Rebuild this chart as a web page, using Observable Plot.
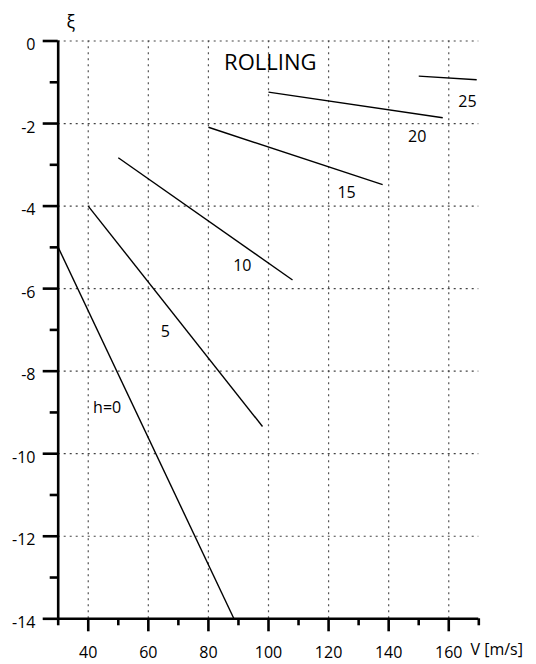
<!DOCTYPE html>
<html>
<head>
<meta charset="utf-8">
<script src="https://cdn.jsdelivr.net/npm/d3@7"></script>
<script src="https://cdn.jsdelivr.net/npm/@observablehq/plot@0.6"></script>
<style>
  html, body { margin: 0; padding: 0; background: #fff; }
  #chart { width: 536px; height: 664px; }
</style>
</head>
<body>
<div id="chart"></div>
<script>
// Series: h value, start/end speed V [m/s], start/end ξ
const hValues = [0, 5, 10, 15, 20, 25];
const vStart  = [30, 40, 50, 80, 100, 150];
const vEnd    = [88.5, 98, 108, 138, 158, 169.3];
const xiStart = [-5, -4, -2.83, -2.09, -1.24, -0.85];
const xiEnd   = [-14, -9.34, -5.79, -3.48, -1.86, -0.94];

// Curve labels
const labelText = ["h=0", "5", "10", "15", "20", "25"];
const labelV    = [46.3, 65.7, 91.3, 126, 149.5, 166.2];
const labelXi   = [-8.89, -7.05, -5.44, -3.69, -2.33, -1.47];

// Ticks
const xMajor = [40, 60, 80, 100, 120, 140, 160];
const xMinor = [30, 50, 70, 90, 110, 130, 150, 170];
const yMajor = [0, -2, -4, -6, -8, -10, -12, -14];
const yMinor = [-1, -3, -5, -7, -9, -11, -13];
const xGrid = [40, 60, 80, 100, 120, 140, 160];
const yGrid = [0, -2, -4, -6, -8, -10, -12];

const title = "ROLLING";
const xLabel = "V [m/s]";
const yLabel = "ξ";

const curves = hValues.map((h, i) => ({h, x1: vStart[i], y1: xiStart[i], x2: vEnd[i], y2: xiEnd[i]}));
const labels = labelText.map((t, i) => ({t, x: labelV[i], y: labelXi[i]}));

const fmt = d => String(d);
const font = "'Open Sans', 'Noto Sans', sans-serif";
const xMin = 30, xMax = 170, yMin = -14, yMax = 0;

const W = 536, H = 664, mL = 57.7, mR = 57.7, mT = 40.5, mB = 45.7;
// tick lengths in pixels converted into data units of the scales
const pxPerX = (W - mL - mR) / (xMax - xMin);
const pxPerY = (H - mT - mB) / (yMax - yMin);
const xTickRows = [
  ...xMajor.map(v => ({x1: v, y1: yMin, y2: yMin - 13 / pxPerY})),
  ...xMinor.map(v => ({x1: v, y1: yMin, y2: yMin - 7 / pxPerY}))
];
const yTickRows = [
  ...yMajor.map(v => ({x1: xMin - 15 / pxPerX, x2: xMin, y1: v})),
  ...yMinor.map(v => ({x1: xMin - 8 / pxPerX, x2: xMin, y1: v}))
];

const chart = Plot.plot({
  width: W,
  height: H,
  marginLeft: mL,
  marginRight: mR,
  marginTop: mT,
  marginBottom: mB,
  style: {fontFamily: font, fontSize: "16px", color: "#000", background: "#fff", overflow: "visible"},
  x: {domain: [xMin, xMax], axis: null},
  y: {domain: [yMin, yMax], axis: null},
  marks: [
    // grid
    Plot.ruleX(xGrid, {y1: yMin, y2: yMax, stroke: "#555", strokeWidth: 1.2, strokeDasharray: "2,4"}),
    Plot.ruleY(yGrid, {x1: xMin, x2: xMax, stroke: "#444", strokeWidth: 1.2, strokeDasharray: "2,4"}),
    // ticks
    Plot.ruleX(xTickRows, {x: "x1", y1: "y1", y2: "y2", stroke: "#000", strokeWidth: 2.6}),
    Plot.ruleY(yTickRows, {y: "y1", x1: "x1", x2: "x2", stroke: "#000", strokeWidth: 2.6}),
    Plot.text(xMajor, {x: d => d, y: yMin, dy: 33.6, text: fmt, fontSize: 16, fill: "#000", textAnchor: "middle", lineAnchor: "middle"}),
    Plot.text(yMajor, {x: xMin, y: d => d, dx: -22.7, dy: 3.9, text: fmt, fontSize: 16, fill: "#000", textAnchor: "end", lineAnchor: "middle"}),
    // axes lines
    Plot.ruleX([xMin], {y1: yMin, y2: yMax, stroke: "#000", strokeWidth: 2.6}),
    Plot.ruleY([yMin], {x1: xMin, x2: xMax, stroke: "#000", strokeWidth: 2.6}),
    // curves
    Plot.link(curves, {x1: "x1", y1: "y1", x2: "x2", y2: "y2", stroke: "#000", strokeWidth: 1.4}),
    // curve labels
    Plot.text(labels, {x: "x", y: "y", text: "t", fontSize: 16, fill: "#000", textAnchor: "middle", lineAnchor: "middle"}),
    // title
    Plot.text([title], {x: 100.6, y: -0.54, fontSize: 22, fill: "#000", textAnchor: "middle", lineAnchor: "middle"}),
    // axis labels
    Plot.text([yLabel], {frameAnchor: "top-left", dx: 12.5, dy: -18.5, fontSize: 18, fill: "#000", textAnchor: "middle", lineAnchor: "middle"}),
    Plot.text([xLabel], {frameAnchor: "bottom-right", dx: -8.3, dy: 30.7, fontSize: 16, fill: "#000", textAnchor: "start", lineAnchor: "middle"})
  ]
});
document.getElementById("chart").appendChild(chart);
</script>
</body>
</html>
